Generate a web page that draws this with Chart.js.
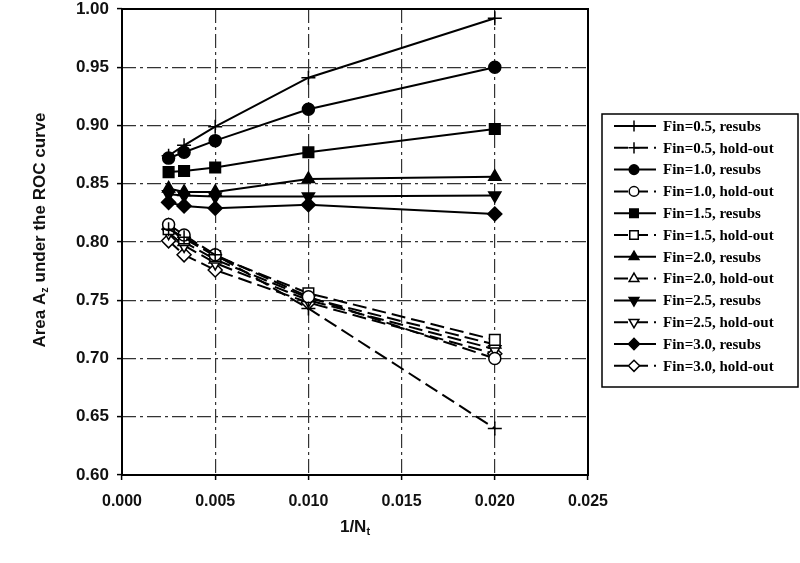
<!DOCTYPE html>
<html>
<head>
<meta charset="utf-8">
<script src="https://cdn.jsdelivr.net/npm/chart.js@4"></script>
<style>
  body { margin: 0; background: #fff; }
  #wrap { width: 800px; height: 563px; }
</style>
</head>
<body>
<div id="wrap"><canvas id="chart-roc" width="800" height="563"></canvas></div>
<script>
// 1/Nt values (Nt = 400, 300, 200, 100, 50)
const invNt = [0.0025, 0.00333, 0.005, 0.010, 0.020];

const xTicks = [0.000, 0.005, 0.010, 0.015, 0.020, 0.025];
const yTicks = [0.60, 0.65, 0.70, 0.75, 0.80, 0.85, 0.90, 0.95, 1.00];

// resubstitution estimates
const resubs05 = [0.874, 0.883, 0.899, 0.941, 0.992];
const resubs10 = [0.872, 0.877, 0.887, 0.914, 0.950];
const resubs15 = [0.860, 0.861, 0.864, 0.877, 0.897];
const resubs20 = [0.846, 0.843, 0.843, 0.854, 0.856];
const resubs25 = [0.841, 0.840, 0.839, 0.839, 0.840];
const resubs30 = [0.834, 0.831, 0.829, 0.832, 0.824];

// hold-out estimates
const holdout05 = [0.811, 0.804, 0.789, 0.743, 0.640];
const holdout10 = [0.815, 0.806, 0.789, 0.753, 0.700];
const holdout15 = [0.811, 0.803, 0.788, 0.756, 0.716];
const holdout20 = [0.814, 0.800, 0.785, 0.752, 0.712];
const holdout25 = [0.808, 0.797, 0.782, 0.750, 0.708];
const holdout30 = [0.801, 0.789, 0.776, 0.748, 0.704];

const labels = [
    'Fin=0.5, resubs', 'Fin=0.5, hold-out',
    'Fin=1.0, resubs', 'Fin=1.0, hold-out',
    'Fin=1.5, resubs', 'Fin=1.5, hold-out',
    'Fin=2.0, resubs', 'Fin=2.0, hold-out',
    'Fin=2.5, resubs', 'Fin=2.5, hold-out',
    'Fin=3.0, resubs', 'Fin=3.0, hold-out'
];
const series = [resubs05, holdout05, resubs10, holdout10, resubs15, holdout15,
                resubs20, holdout20, resubs25, holdout25, resubs30, holdout30];

// marker per Fin level: style, rotation, radius
const markers = [
    ['cross', 0, 7],
    ['circle', 0, 6],
    ['rect', 0, 7.5],
    ['triangle', 0, 7],
    ['triangle', 180, 7],
    ['rectRot', 0, 7]
];

const HOLD_DASH = [14, 6];
const GRID_DASH = [14, 4, 3, 4];

const datasets = series.map(function(vals, i){
    const m = markers[Math.floor(i / 2)];
    const hold = i % 2 === 1;
    return {
        label: labels[i],
        data: vals.map(function(v, k){ return {x: invNt[k], y: v}; }),
        showLine: true,
        borderColor: '#000',
        borderWidth: 2,
        borderDash: hold ? HOLD_DASH : [],
        pointStyle: m[0],
        pointRotation: m[1],
        pointRadius: m[2],
        pointHoverRadius: m[2],
        pointBorderWidth: 1.5,
        pointBorderColor: '#000',
        pointBackgroundColor: hold ? '#fff' : '#000',
        order: hold ? 1 : 2
    };
});

// draw text with a subscript part, centred on (0,0) of the current transform
function textWithSub(ctx, parts, size){
    let total = 0;
    const widths = parts.map(function(p){
        ctx.font = 'bold ' + (p.sub ? size * 0.65 : size) + 'px "Liberation Sans", Arial, sans-serif';
        const w = ctx.measureText(p.t).width;
        total += w;
        return w;
    });
    let x = -total / 2;
    parts.forEach(function(p, i){
        ctx.font = 'bold ' + (p.sub ? size * 0.65 : size) + 'px "Liberation Sans", Arial, sans-serif';
        ctx.fillText(p.t, x, p.sub ? size * 0.3 : 0);
        x += widths[i];
    });
}

const framePlugin = {
    id: 'frame',
    beforeDatasetsDraw(chart){
        const a = chart.chartArea;
        const ctx = chart.ctx;
        ctx.save();
        ctx.strokeStyle = '#000';
        ctx.lineWidth = 2;
        ctx.setLineDash([]);
        ctx.strokeRect(a.left, a.top, a.right - a.left, a.bottom - a.top);
        ctx.restore();
    },
    afterDraw(chart){
        const ctx = chart.ctx;
        ctx.save();
        ctx.fillStyle = '#111';
        ctx.textBaseline = 'middle';
        ctx.textAlign = 'left';

        // y axis title
        ctx.save();
        ctx.translate(40, 230);
        ctx.rotate(-Math.PI / 2);
        textWithSub(ctx, [{t: 'Area A'}, {t: 'z', sub: true}, {t: ' under the ROC curve'}], 17);
        ctx.restore();

        // x axis title
        ctx.save();
        ctx.translate(355, 527);
        textWithSub(ctx, [{t: '1/N'}, {t: 't', sub: true}], 17);
        ctx.restore();

        // legend box
        const bx = 602, by = 114, bw = 196, bh = 273;
        ctx.strokeStyle = '#000';
        ctx.lineWidth = 1.5;
        ctx.setLineDash([]);
        ctx.fillStyle = '#fff';
        ctx.fillRect(bx, by, bw, bh);
        ctx.strokeRect(bx, by, bw, bh);

        chart.data.datasets.forEach(function(ds, i){
            const y = 126 + i * 21.8;
            ctx.strokeStyle = '#000';
            ctx.lineWidth = 2;
            ctx.setLineDash(ds.borderDash);
            ctx.beginPath();
            ctx.moveTo(614, y);
            ctx.lineTo(656, y);
            ctx.stroke();
            ctx.setLineDash([]);
            ctx.fillStyle = ds.pointBackgroundColor;
            ctx.strokeStyle = '#000';
            ctx.lineWidth = 1.5;
            Chart.helpers.drawPoint(ctx, {
                pointStyle: ds.pointStyle,
                rotation: ds.pointRotation,
                radius: ds.pointRadius * 0.8,
                borderWidth: 1.5
            }, 634, y);
            ctx.fillStyle = '#000';
            ctx.font = 'bold 15px "Liberation Serif", "Times New Roman", serif';
            ctx.fillText(ds.label, 663, y + 1);
        });
        ctx.restore();
    }
};

const gridStyle = {
    color: '#333',
    lineWidth: 1.2,
    tickLength: 5,
    tickColor: '#000',
    tickWidth: 1.5,
    tickBorderDash: []
};

new Chart(document.getElementById('chart-roc').getContext('2d'), {
    type: 'scatter',
    data: { datasets: datasets },
    plugins: [framePlugin],
    options: {
        responsive: false,
        animation: false,
        layout: { padding: {top: 8, right: 212, left: 0, bottom: 0} },
        scales: {
            x: {
                type: 'linear',
                min: xTicks[0],
                max: xTicks[xTicks.length - 1],
                afterBuildTicks: function(scale){
                    scale.ticks = xTicks.map(function(v){ return {value: v}; });
                },
                afterFit: function(scale){
                    scale.height = 88;
                    scale.paddingLeft = 0;
                    scale.paddingRight = 0;
                },
                border: { display: false, dash: GRID_DASH },
                grid: gridStyle,
                ticks: {
                    color: '#111',
                    padding: 12,
                    maxRotation: 0,
                    font: {family: '"Liberation Sans", Arial, sans-serif', size: 16, weight: 'bold'},
                    callback: function(v){ return Number(v).toFixed(3); }
                }
            },
            y: {
                min: yTicks[0],
                max: yTicks[yTicks.length - 1],
                afterBuildTicks: function(scale){
                    scale.ticks = yTicks.map(function(v){ return {value: v}; });
                },
                afterFit: function(scale){
                    scale.width = 122;
                    scale.paddingTop = 0;
                    scale.paddingBottom = 0;
                },
                border: { display: false, dash: GRID_DASH },
                grid: gridStyle,
                ticks: {
                    color: '#111',
                    padding: 8,
                    font: {family: '"Liberation Sans", Arial, sans-serif', size: 17, weight: 'bold'},
                    callback: function(v){ return Number(v).toFixed(2); }
                }
            }
        },
        plugins: {
            legend: { display: false },
            tooltip: { enabled: false }
        }
    }
});
</script>
</body>
</html>
